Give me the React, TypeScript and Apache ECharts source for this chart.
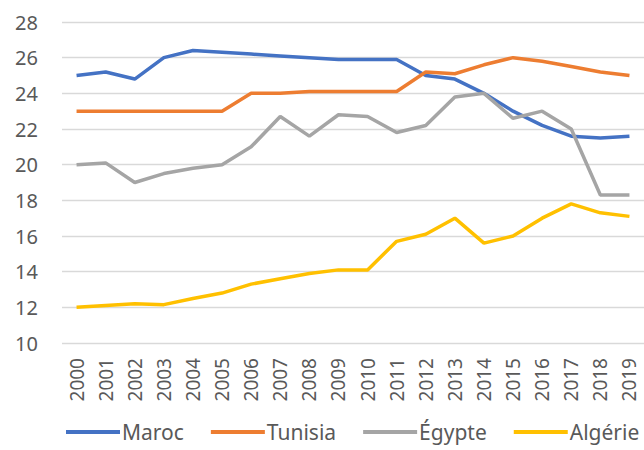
import React, { useEffect, useRef } from "react";
import * as echarts from "echarts";

const years = ["2000","2001","2002","2003","2004","2005","2006","2007","2008","2009","2010","2011","2012","2013","2014","2015","2016","2017","2018","2019"];
const maroc = [25.0,25.2,24.8,26.0,26.4,26.3,26.2,26.1,26.0,25.9,25.9,25.9,25.0,24.8,24.0,23.0,22.2,21.6,21.5,21.6];
const tunisia = [23.0,23.0,23.0,23.0,23.0,23.0,24.0,24.0,24.1,24.1,24.1,24.1,25.2,25.1,25.6,26.0,25.8,25.5,25.2,25.0];
const egypte = [20.0,20.1,19.0,19.5,19.8,20.0,21.0,22.7,21.6,22.8,22.7,21.8,22.2,23.8,24.0,22.6,23.0,22.0,18.3,18.3];
const algerie = [12.0,12.1,12.2,12.15,12.5,12.8,13.3,13.6,13.9,14.1,14.1,15.7,16.1,17.0,15.6,16.0,17.0,17.8,17.3,17.1];

const names = ["Maroc", "Tunisia", "Égypte", "Algérie"];
const colors = ["#4472C4", "#ED7D31", "#A5A5A5", "#FFC000"];
const seriesData = [maroc, tunisia, egypte, algerie];

export default function App() {
  const ref = useRef<HTMLDivElement>(null);
  useEffect(() => {
    if (!ref.current) return;
    const chart = echarts.init(ref.current, undefined, { renderer: "svg" });
    const font = "'Noto Sans', sans-serif";
    chart.setOption({
      animation: false,
      backgroundColor: "#ffffff",
      grid: { left: 62, top: 22, width: 587, height: 321 },
      xAxis: {
        type: "category",
        data: years,
        boundaryGap: true,
        axisLine: { show: false },
        axisTick: { show: false },
        axisLabel: { rotate: 90, fontSize: 19, color: "#595959", fontFamily: font, margin: 15, interval: 0 },
      },
      yAxis: {
        type: "value",
        min: 10,
        max: 28,
        interval: 2,
        axisLine: { show: false },
        axisTick: { show: false },
        splitLine: { lineStyle: { color: "#D9D9D9", width: 1.3 } },
        axisLabel: { fontSize: 20, color: "#595959", fontFamily: font, margin: 24 },
      },
      legend: {
        left: 66,
        top: 421,
        icon: "rect",
        itemWidth: 54,
        itemHeight: 4,
        itemGap: 27,
        padding: 0,
        textStyle: { fontSize: 21, lineHeight: 22, color: "#595959", fontFamily: font, padding: [0, 0, 0, -3] },
        data: names,
      },
      series: names.map((n, i) => ({
        name: n,
        type: "line",
        data: seriesData[i],
        showSymbol: false,
        symbol: "none",
        lineStyle: { color: colors[i], width: 3.5 },
        itemStyle: { color: colors[i] },
      })),
    });
    return () => chart.dispose();
  }, []);
  return <div ref={ref} style={{ position: "fixed", left: 0, top: 0, width: 644, height: 450 }} />;
}
